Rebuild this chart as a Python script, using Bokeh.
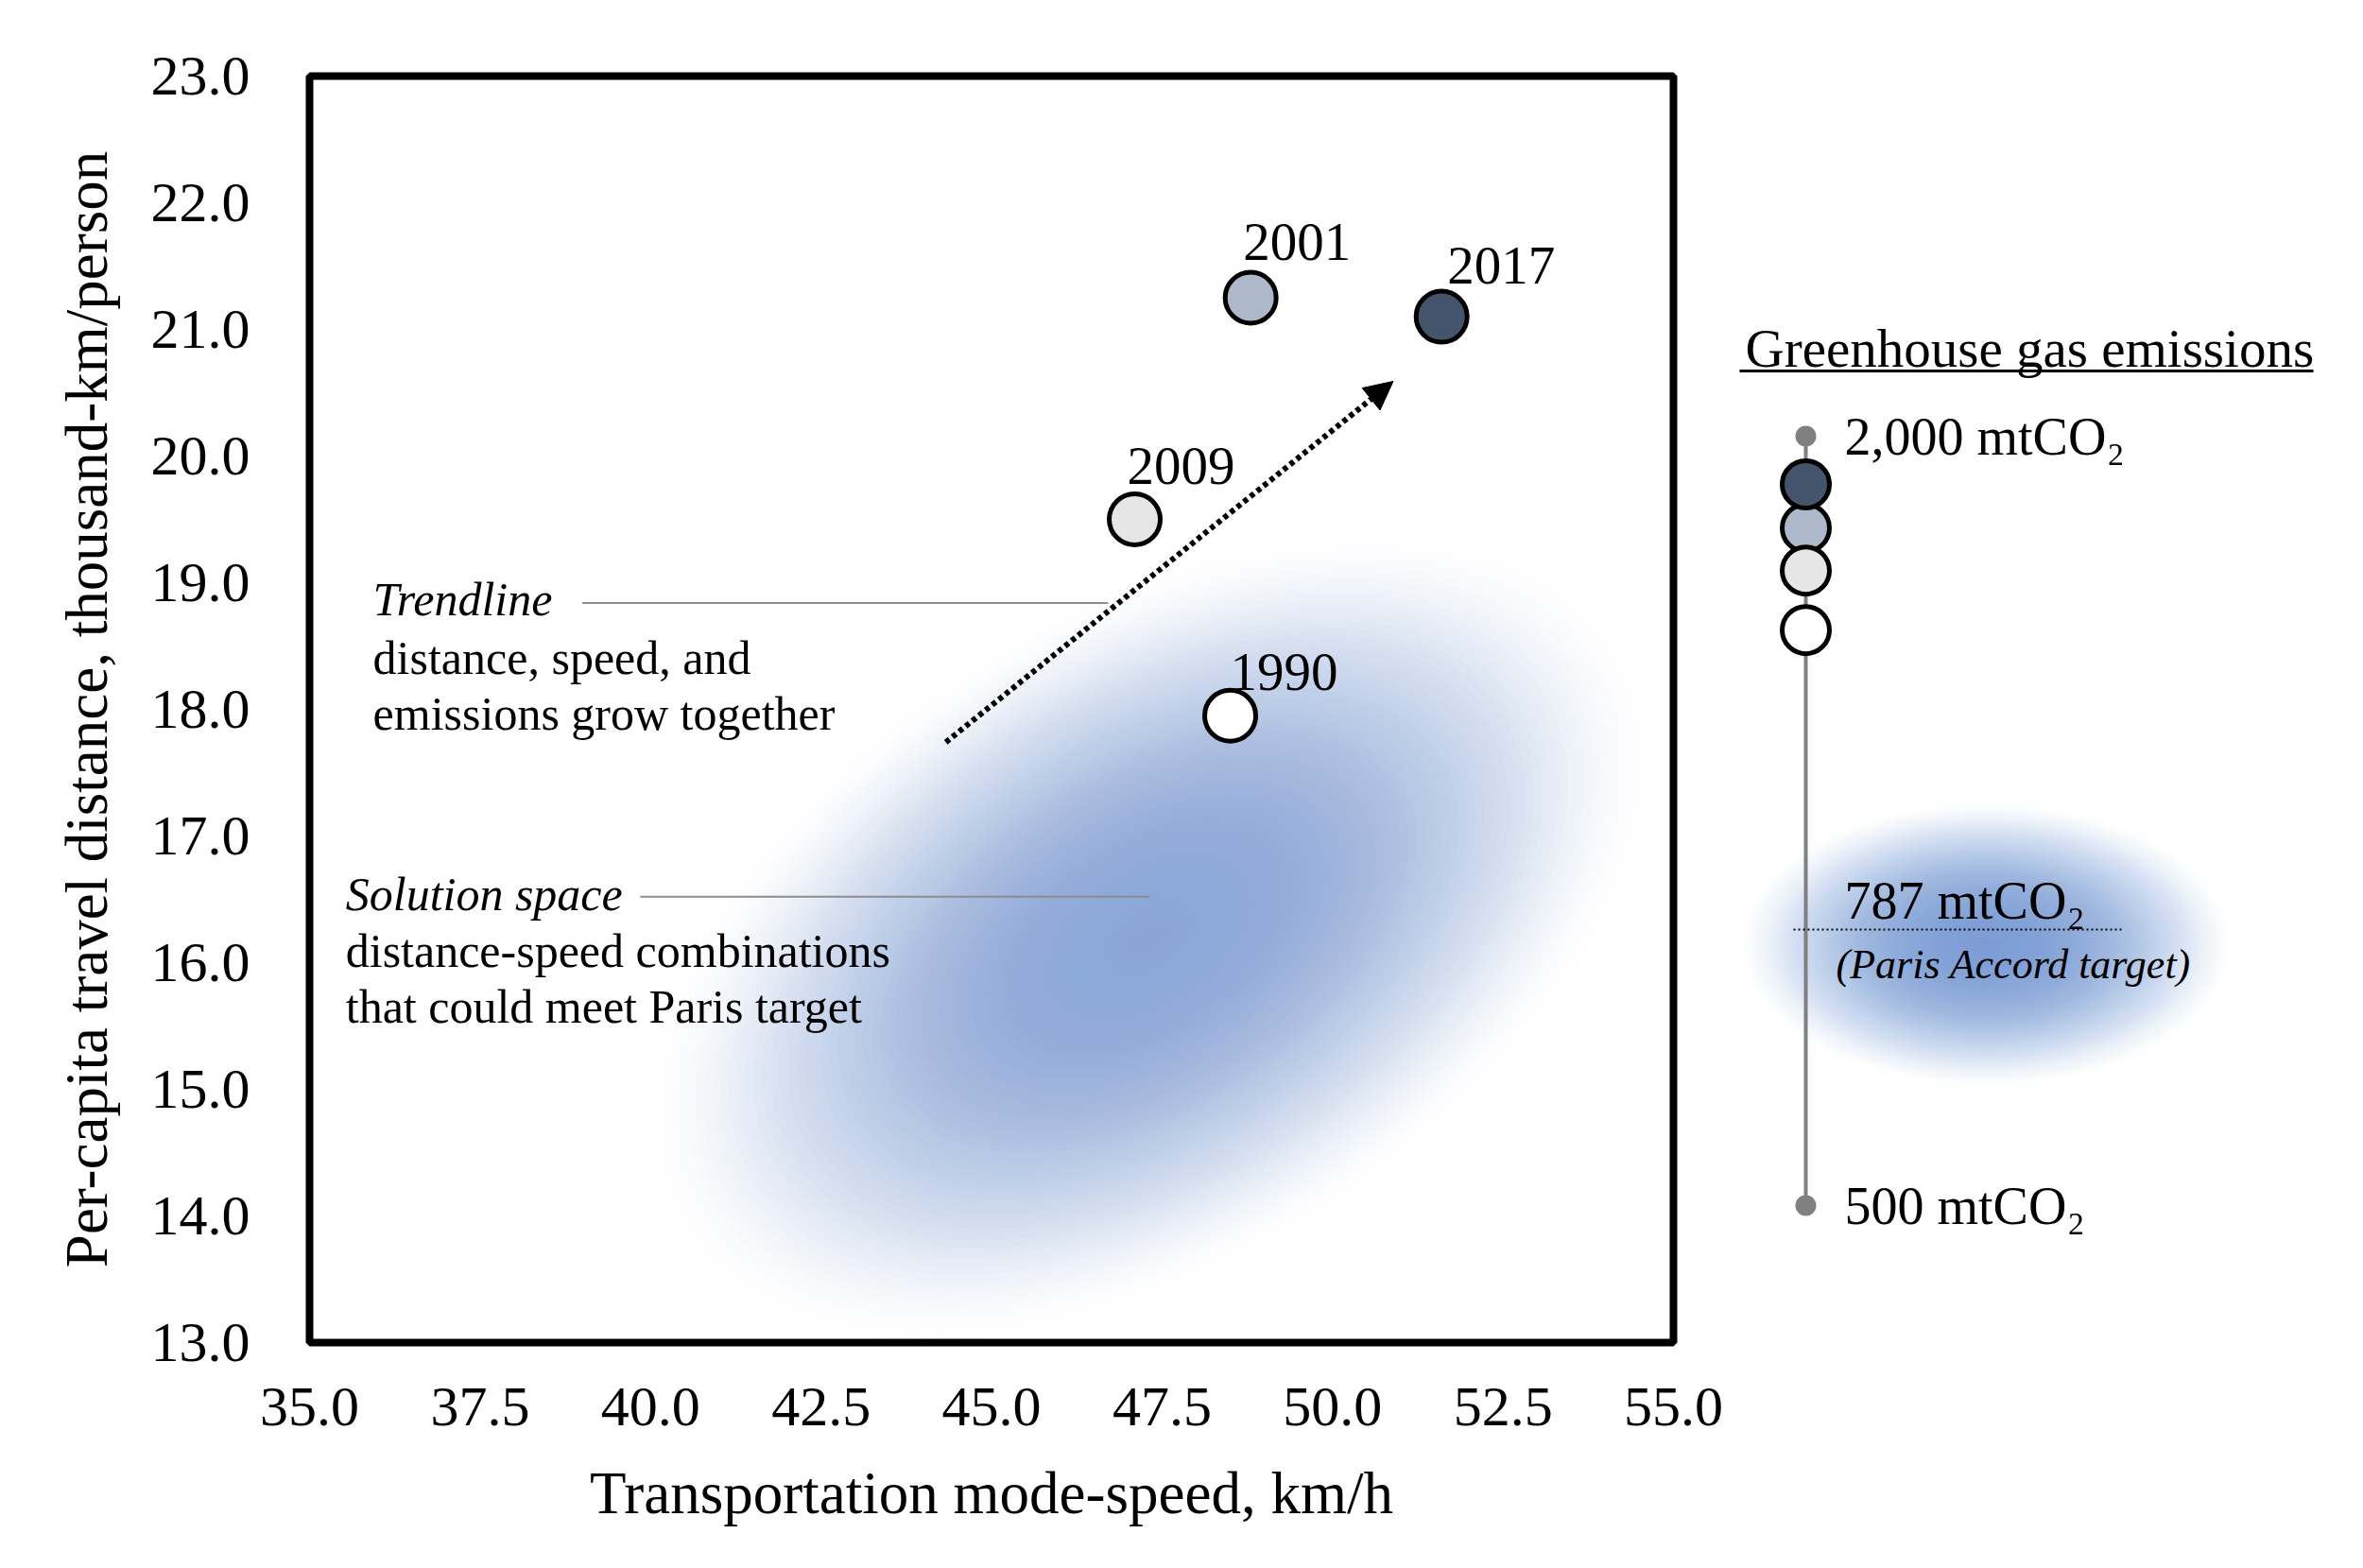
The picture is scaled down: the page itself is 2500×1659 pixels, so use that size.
#!/usr/bin/env python3

import numpy as np
from bokeh.core.properties import value
from bokeh.embed import file_html
from bokeh.layouts import row
from bokeh.models import (Arrow, ColumnDataSource, FixedTicker, NormalHead,
                          PrintfTickFormatter, Range1d)
from bokeh.plotting import figure
from bokeh.resources import INLINE

# data
years = ["1990", "2001", "2009", "2017"]
speed = [48.5, 48.8, 47.1, 51.6]          # km/h
distance = [17.95, 21.25, 19.5, 21.1]     # thousand km/person
emissions = [1622, 1821, 1738, 1906]      # mtCO2, as placed on the side scale
year_colors = ["#ffffff", "#adb9ca", "#e7e6e6", "#44546a"]

x_ticks = [35.0, 37.5, 40.0, 42.5, 45.0, 47.5, 50.0, 52.5, 55.0]
y_ticks = [13.0, 14.0, 15.0, 16.0, 17.0, 18.0, 19.0, 20.0, 21.0, 22.0, 23.0]

trend_start = (44.33, 17.74)
trend_end = (50.89, 20.59)
solution_center = (47.3, 16.2)

scale_top = 2000
scale_bottom = 500
paris_target = 787
paris_level = 1038   # where the target mark sits on the drawn scale

SERIF = "Liberation Serif"


def add_glow(p, x, y, w, h, angle, color, peak=0.95, power=1.5, n=60):
    # soft radial fade built from stacked translucent ellipses
    scales = np.linspace(1.0, 1.0 / n, n)
    prev = 0.0
    alphas = []
    for s in scales:
        r = s - 0.5 / n
        t = peak * (1 - r * r) ** power
        alphas.append(1 - (1 - t) / (1 - prev))
        prev = t
    src = ColumnDataSource(dict(
        x=[x] * n, y=[y] * n, w=list(w * scales), h=list(h * scales),
        a=alphas,
    ))
    p.ellipse("x", "y", width="w", height="h", angle=angle, source=src,
              width_units="screen", height_units="screen",
              fill_color=color, fill_alpha="a", line_color=None)


# ---- main chart ----
p = figure(
    width=1840, height=1650,
    x_range=Range1d(35, 55), y_range=Range1d(13, 23),
    min_border_left=327, min_border_right=70,
    min_border_top=80, min_border_bottom=230,
    output_backend="svg", toolbar_location=None,
    x_axis_label="Transportation mode-speed, km/h",
    y_axis_label="Per-capita travel distance, thousand-km/person",
)
p.xgrid.visible = False
p.ygrid.visible = False
p.outline_line_color = "black"
p.outline_line_width = 8
p.background_fill_color = "white"
p.border_fill_color = "white"

p.xaxis.ticker = FixedTicker(ticks=x_ticks)
p.yaxis.ticker = FixedTicker(ticks=y_ticks)
p.xaxis.formatter = PrintfTickFormatter(format="%.1f")
p.yaxis.formatter = PrintfTickFormatter(format="%.1f")
for ax in (p.xaxis, p.yaxis):
    ax.axis_line_color = None
    ax.major_tick_line_color = None
    ax.minor_tick_line_color = None
    ax.major_label_text_font = SERIF
    ax.major_label_text_font_size = "60px"
    ax.major_label_text_color = "black"
    ax.axis_label_text_font = SERIF
    ax.axis_label_text_font_size = "63px"
    ax.axis_label_text_font_style = "normal"
    ax.axis_label_text_color = "black"
p.xaxis.major_label_standoff = 42
p.xaxis.axis_label_standoff = 34
p.yaxis.major_label_standoff = 57
p.yaxis.axis_label_standoff = 30

add_glow(p, solution_center[0], solution_center[1], 1180, 690,
         np.radians(32), "#8aa6db")

# leader lines
p.segment(x0=[39.0, 39.85], y0=[18.84, 16.52], x1=[46.71, 47.32],
          y1=[18.84, 16.52], line_color="#8c8c8c", line_width=2)

p.add_layout(Arrow(
    x_start=trend_start[0], y_start=trend_start[1],
    x_end=trend_end[0], y_end=trend_end[1],
    line_color="black", line_width=6, line_dash="5 4",
    end=NormalHead(size=30, fill_color="black", line_color="black",
                   line_width=1),
))

pts = ColumnDataSource(dict(x=speed, y=distance, c=year_colors, t=years,
                            dx=[0, -8, -8, 6], dy=[-46, -59, -57, -54]))
p.scatter("x", "y", source=pts, size=54, fill_color="c",
          line_color="black", line_width=5)
p.text("x", "y", text="t", source=pts, x_offset="dx", y_offset="dy",
       text_font=value(SERIF), text_font_size="57px",
       text_baseline="middle", text_align="left", text_color="black")

note_kw = dict(text_font=value(SERIF), text_font_size="50px",
               text_baseline="middle", text_align="left", text_color="black")
p.text(x=[35.93], y=[18.87], text=["Trendline"], text_font_style="italic",
       **note_kw)
p.text(x=[35.93, 35.93], y=[18.41, 17.97],
       text=["distance, speed, and", "emissions grow together"], **note_kw)
p.text(x=[35.53], y=[16.54], text=["Solution space"],
       text_font_style="italic", **note_kw)
p.text(x=[35.53, 35.53], y=[16.09, 15.65],
       text=["distance-speed combinations", "that could meet Paris target"],
       **note_kw)

# ---- emissions scale at the right ----
# the row aligns this frame with the main frame (page rows 80..1420)
top_px, bottom_px = 461, 1275   # page rows of the 2,000 and 500 marks
per_px = (scale_top - scale_bottom) / (bottom_px - top_px)


def lvl(py):
    # page pixel row -> level on the emissions scale
    return scale_top - (py - top_px) * per_px


q = figure(
    width=650, height=1650,
    x_range=Range1d(1840, 2490),
    y_range=Range1d(lvl(1420), lvl(80)),
    min_border_left=0, min_border_right=0,
    min_border_top=80, min_border_bottom=230,
    output_backend="svg", toolbar_location=None,
)
q.axis.visible = False
q.grid.visible = False
q.outline_line_color = None
q.border_fill_color = "white"

add_glow(q, 2101, lvl(999), 520, 300, 0, "#7f9ed8", power=1.3)

q.segment(x0=[1910], y0=[scale_top], x1=[1910], y1=[scale_bottom],
          line_color="#808080", line_width=4)
q.scatter(x=[1910, 1910], y=[scale_top, scale_bottom], size=22,
          fill_color="#808080", line_color=None)
q.scatter(x=[1910] * 4, y=emissions, size=50, fill_color=year_colors,
          line_color="black", line_width=5)

q.segment(x0=[1897], y0=[paris_level], x1=[2244], y1=[paris_level],
          line_color="black", line_width=2, line_dash="2 3")

legend_kw = dict(text_font=value(SERIF), text_baseline="middle",
                 text_align="left", text_color="black")
q.text(x=[1846], y=[lvl(368)], text=["Greenhouse gas emissions"],
       text_font_size="57px", **legend_kw)
q.segment(x0=[1833], y0=[lvl(392)], x1=[2447], y1=[lvl(392)],
          line_color="black", line_width=3)
q.text(x=[1951, 1951], y=[scale_top, scale_bottom],
       text=[f"{scale_top:,} mtCO₂", f"{scale_bottom:,} mtCO₂"],
       text_font_size="56px", **legend_kw)
q.text(x=[1951], y=[paris_level], y_offset=[-31],
       text=[f"{paris_target} mtCO₂"], text_font_size="56px", **legend_kw)
q.text(x=[1942], y=[paris_level], y_offset=[37],
       text=["(Paris Accord target)"], text_font_size="44px",
       text_font_style="italic", **legend_kw)

layout = row(p, q)
open("out.html", "w").write(file_html(layout, INLINE))
